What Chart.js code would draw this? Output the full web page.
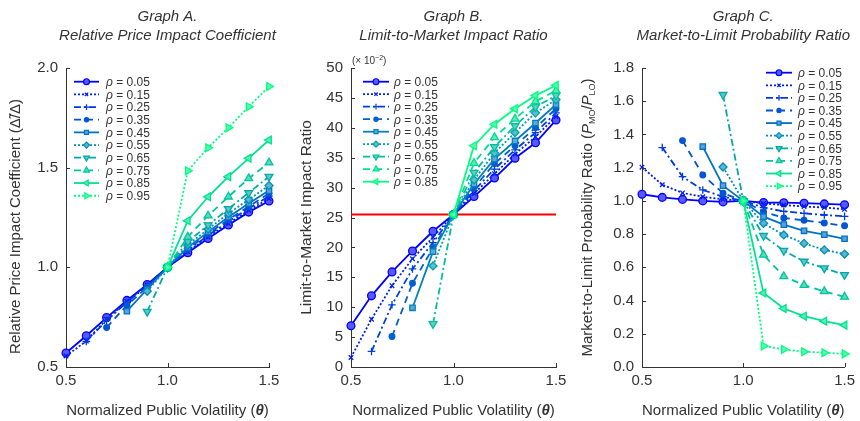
<!DOCTYPE html>
<html><head><meta charset="utf-8">
<script src="https://cdn.jsdelivr.net/npm/chart.js@4/dist/chart.umd.min.js"></script>
<style>
html,body{margin:0;padding:0;background:#fff;width:860px;height:421px;overflow:hidden}
canvas{position:absolute;top:0}
</style></head><body>
<canvas id="cA" width="290" height="421" style="left:0"></canvas>
<canvas id="cB" width="285" height="421" style="left:290px"></canvas>
<canvas id="cC" width="285" height="421" style="left:575px"></canvas>
<script>
// ---------- DATA ----------
const theta = [0.5, 0.6, 0.7, 0.8, 0.9, 1.0, 1.1, 1.2, 1.3, 1.4, 1.5];
const rhoA = ['0.05','0.15','0.25','0.35','0.45','0.55','0.65','0.75','0.85','0.95'];
const rhoB = ['0.05','0.15','0.25','0.35','0.45','0.55','0.65','0.75','0.85'];
const rhoC = ['0.05','0.15','0.25','0.35','0.45','0.55','0.65','0.75','0.85','0.95'];

// Graph A: relative price impact coefficient
const a05 = [0.570,0.657,0.748,0.834,0.914,1.0,1.073,1.145,1.212,1.277,1.333];
const a15 = [0.555,0.630,0.740,0.829,0.911,1.0,1.078,1.152,1.220,1.285,1.345];
const a25 = [null,0.628,0.733,0.825,0.908,1.0,1.085,1.160,1.230,1.295,1.357];
const a35 = [null,null,0.698,0.810,0.900,1.0,1.092,1.168,1.240,1.305,1.370];
const a45 = [null,null,null,0.780,0.890,1.0,1.100,1.178,1.252,1.320,1.385];
const a55 = [null,null,null,null,0.880,1.0,1.112,1.192,1.270,1.340,1.410];
const a65 = [null,null,null,null,0.778,1.0,1.128,1.212,1.293,1.374,1.455];
const a75 = [null,null,null,null,null,1.0,1.153,1.259,1.354,1.446,1.525];
const a85 = [null,null,null,null,null,1.0,1.234,1.354,1.455,1.547,1.639];
const a95 = [null,null,null,null,null,1.0,1.485,1.600,1.700,1.806,1.907];

// Graph B: limit-to-market impact ratio (x 10^-2)
const b05 = [6.9,11.9,15.9,19.4,22.7,25.5,28.5,31.6,34.9,37.5,41.3];
const b15 = [1.6,8.0,13.6,18.1,21.7,25.5,29.0,32.3,35.6,38.5,41.9];
const b25 = [null,2.6,10.4,16.4,20.8,25.5,29.5,33.1,36.3,39.2,42.5];
const b35 = [null,null,5.1,14.0,19.9,25.5,30.0,34.0,37.0,40.0,43.2];
const b45 = [null,null,null,9.9,19.3,25.5,30.6,34.8,37.8,40.8,43.9];
const b55 = [null,null,null,null,16.9,25.5,31.3,35.8,39.2,42.5,44.7];
const b65 = [null,null,null,null,7.2,25.5,32.5,36.8,40.3,43.5,45.4];
const b75 = [null,null,null,null,null,25.5,34.1,38.4,41.5,44.4,46.2];
const b85 = [null,null,null,null,null,25.5,37.0,40.6,43.2,45.4,47.1];
const bReference = 25.5;

// Graph C: market-to-limit probability ratio
const c05 = [1.040,1.021,1.009,1.000,0.994,1.0,0.990,0.989,0.986,0.982,0.977];
const c15 = [1.203,1.097,1.048,1.025,1.010,1.0,0.985,0.975,0.966,0.960,0.950];
const c25 = [null,1.321,1.146,1.066,1.025,1.0,0.960,0.937,0.925,0.915,0.907];
const c35 = [null,null,1.363,1.156,1.046,1.0,0.935,0.897,0.883,0.867,0.850];
const c45 = [null,null,null,1.327,1.092,1.0,0.905,0.857,0.820,0.797,0.772];
const c55 = [null,null,null,null,1.204,1.0,0.865,0.795,0.744,0.705,0.680];
const c65 = [null,null,null,null,1.639,1.0,0.790,0.700,0.635,0.595,0.555];
const c75 = [null,null,null,null,null,1.0,0.675,0.545,0.493,0.455,0.422];
const c85 = [null,null,null,null,null,1.0,0.445,0.352,0.306,0.276,0.252];
const c95 = [null,null,null,null,null,1.0,0.127,0.105,0.092,0.086,0.079];

const seriesA = [a05,a15,a25,a35,a45,a55,a65,a75,a85,a95];
const seriesB = [b05,b15,b25,b35,b45,b55,b65,b75,b85];
const seriesC = [c05,c15,c25,c35,c45,c55,c65,c75,c85,c95];

// ---------- STYLES ----------
const FONT = "'Liberation Sans', Arial, Helvetica, sans-serif";
const TXT = '#333';
const lineStyles = [
  {dash:[],        ps:'circle',   rot:0,   r:3.9, fill:'light'},
  {dash:[2,2],     ps:'crossRot', rot:0,   r:3.2, fill:'light'},
  {dash:[7,3,2,3], ps:'cross',    rot:0,   r:3.8, fill:'light'},
  {dash:[7,5],     ps:'circle',   rot:0,   r:2.8, fill:'full'},
  {dash:[],        ps:'rect',     rot:0,   r:3.8, fill:'light'},
  {dash:[2,2],     ps:'rectRot',  rot:0,   r:4.0, fill:'light'},
  {dash:[7,3,2,3], ps:'triangle', rot:180, r:4.5, fill:'light'},
  {dash:[7,5],     ps:'triangle', rot:0,   r:4.5, fill:'light'},
  {dash:[],        ps:'triangle', rot:-90, r:4.5, fill:'light'},
  {dash:[2,2],     ps:'triangle', rot:90,  r:4.5, fill:'light'}
];
function winter(t){ return [0, Math.round(255*t), Math.round(255*(1-0.5*t))]; }
function rgb(c){ return 'rgb('+c.join(',')+')'; }
function lighten(c,k){ return 'rgb('+c.map(v=>Math.round(v+(255-v)*k)).join(',')+')'; }

function buildDatasets(series, rhos){
  const n = series.length;
  return series.map((vals,i)=>{
    const st = lineStyles[i];
    const c = winter(i/(n-1));
    const pts = [];
    theta.forEach((t,j)=>{ if (vals[j]!==null) pts.push({x:t, y:vals[j]}); });
    return {
      label: 'ρ = '+rhos[i], rho: rhos[i], data: pts,
      borderColor: rgb(c), borderWidth: 1.8, borderDash: st.dash,
      pointStyle: st.ps, pointRotation: st.rot, pointRadius: st.r,
      pointBorderColor: rgb(c), pointBorderWidth: 1.3,
      pointBackgroundColor: st.fill==='full' ? rgb(c) : lighten(c,0.35),
      tension: 0, fill: false, clip: false, order: n - i
    };
  });
}

// ---------- PLUGINS ----------
function drawRich(ctx, segs, x, y, align){
  let w = 0;
  segs.forEach(s=>{ ctx.font = s.f; s.w = ctx.measureText(s.t).width; w += s.w; });
  let cx = align==='center' ? x - w/2 : x;
  ctx.textAlign = 'left';
  segs.forEach(s=>{ ctx.font = s.f; ctx.fillText(s.t, cx, y + (s.dy||0)); cx += s.w; });
}

const rhoLegend = {
  id: 'rhoLegend',
  afterDatasetsDraw(chart, args, o){
    if (!o || o.x0 === undefined) return;
    const ctx = chart.ctx;
    ctx.save();
    let row = 0;
    chart.data.datasets.forEach(ds=>{
      if (!ds.rho) return;
      const y = o.y + row*o.dy;
      ctx.strokeStyle = ds.borderColor; ctx.lineWidth = ds.borderWidth;
      ctx.setLineDash(ds.borderDash||[]);
      ctx.beginPath(); ctx.moveTo(o.x0, y); ctx.lineTo(o.x1, y); ctx.stroke();
      ctx.setLineDash([]);
      ctx.fillStyle = ds.pointBackgroundColor; ctx.strokeStyle = ds.pointBorderColor; ctx.lineWidth = 1.2;
      Chart.helpers.drawPoint(ctx, {pointStyle: ds.pointStyle, rotation: ds.pointRotation||0,
        radius: ds.pointRadius*0.75, borderWidth: 1.2}, (o.x0+o.x1)/2, y);
      ctx.fillStyle = TXT; ctx.textBaseline = 'alphabetic';
      drawRich(ctx, [{t:'ρ', f:'italic 12px '+FONT}, {t:' = '+ds.rho, f:'12px '+FONT}], o.tx, y+4.3, 'left');
      row++;
    });
    ctx.restore();
  }
};

const inTicks = {
  id: 'inTicks',
  afterDraw(chart){
    const {ctx, chartArea: ca, scales: {x, y}} = chart;
    ctx.save(); ctx.strokeStyle = '#333'; ctx.lineWidth = 1; ctx.beginPath();
    x.ticks.forEach(t=>{ const p = Math.round(x.getPixelForValue(t.value))+0.5; ctx.moveTo(p, ca.bottom); ctx.lineTo(p, ca.bottom-4); });
    y.ticks.forEach(t=>{ const p = Math.round(y.getPixelForValue(t.value))+0.5; ctx.moveTo(ca.left, p); ctx.lineTo(ca.left+4, p); });
    ctx.stroke(); ctx.restore();
  }
};

const texts = {
  id: 'texts',
  afterDraw(chart, args, o){
    if (!o || !o.title) return;
    const ctx = chart.ctx, ca = chart.chartArea;
    const cx = (ca.left + ca.right)/2, cy = (ca.top + ca.bottom)/2;
    ctx.save();
    ctx.fillStyle = TXT; ctx.textBaseline = 'alphabetic';
    drawRich(ctx, [{t:o.title[0], f:'italic 15px '+FONT}], cx, 21, 'center');
    drawRich(ctx, [{t:o.title[1], f:'italic 15px '+FONT}], cx, 40, 'center');
    drawRich(ctx, [{t:'Normalized Public Volatility (', f:'15px '+FONT}, {t:'θ', f:'italic bold 15px '+FONT}, {t:')', f:'15px '+FONT}], cx, 415, 'center');
    ctx.save();
    ctx.translate(o.yX, cy + (o.yShift||0)); ctx.rotate(-Math.PI/2);
    drawRich(ctx, o.yTitle, 0, 0, 'center');
    ctx.restore();
    if (o.scaleNote){
      drawRich(ctx, [{t:'(× 10', f:'10px '+FONT}, {t:'−2', f:'7px '+FONT, dy:-4}, {t:')', f:'10px '+FONT}], ca.left+1, 64, 'left');
    }
    ctx.restore();
  }
};
Chart.register(rhoLegend, inTicks, texts);

function makeChart(id, datasets, cfg){
  return new Chart(document.getElementById(id), {
    type: 'line',
    data: {datasets},
    options: {
      responsive: false, animation: false, events: [],
      layout: {padding: {left: 0, right: cfg.padR, top: 68, bottom: 0}},
      plugins: {legend: {display: false}, tooltip: {enabled: false},
        rhoLegend: cfg.legend, texts: cfg.texts},
      scales: {
        x: {type: 'linear', min: 0.5, max: 1.5,
          ticks: {stepSize: 0.5, callback: v => v.toFixed(1), font: {size: 15, family: FONT}, color: TXT, padding: 5, maxRotation: 0, autoSkip: false},
          grid: {display: false, drawTicks: false}, border: {display: true, color: '#333', width: 1},
          afterFit(s){ s.height = 54; }},
        y: {type: 'linear', min: cfg.ymin, max: cfg.ymax,
          ticks: {stepSize: cfg.step, callback: cfg.fmt, font: {size: 15, family: FONT}, color: TXT, padding: 8, autoSkip: false},
          grid: {display: false, drawTicks: false}, border: {display: true, color: '#333', width: 1},
          afterFit(s){ s.width = cfg.left; }}
      }
    }
  });
}

// Graph A
makeChart('cA', buildDatasets(seriesA, rhoA), {
  padR: 21, left: 66, ymin: 0.5, ymax: 2.0, step: 0.5, fmt: v => v.toFixed(1),
  legend: {x0: 74, x1: 99, tx: 106, y: 81.7, dy: 12.67},
  texts: {title: ['Graph A.', 'Relative Price Impact Coefficient'], yX: 20, yShift: 9,
    yTitle: [{t:'Relative Price Impact Coefficient (Δ\u0303/Δ)', f:'15px '+FONT}]}
});

// Graph B
const dsB = buildDatasets(seriesB, rhoB);
dsB.push({label: 'ref', data: [{x: theta[0], y: bReference}, {x: theta[theta.length-1], y: bReference}],
  borderColor: '#ff0000', borderWidth: 2, pointRadius: 0, clip: false, order: 100});
makeChart('cB', dsB, {
  padR: 19, left: 61, ymin: 0, ymax: 50, step: 5, fmt: v => String(Math.round(v)),
  legend: {x0: 73, x1: 99, tx: 104, y: 81.7, dy: 12.5},
  texts: {title: ['Graph B.', 'Limit-to-Market Impact Ratio'], yX: 21, scaleNote: true,
    yTitle: [{t:'Limit-to-Market Impact Ratio', f:'15.5px '+FONT}]}
});

// Graph C
makeChart('cC', buildDatasets(seriesC, rhoC), {
  padR: 14, left: 67, ymin: 0, ymax: 1.8, step: 0.2, fmt: v => v.toFixed(1),
  legend: {x0: 191, x1: 217, tx: 223, y: 72.7, dy: 12.6},
  texts: {title: ['Graph C.', 'Market-to-Limit Probability Ratio'], yX: 17,
    yTitle: [{t:'Market-to-Limit Probability Ratio (', f:'15px '+FONT},
             {t:'P', f:'italic 15px '+FONT}, {t:'MO', f:'9px '+FONT, dy:3},
             {t:'/', f:'15px '+FONT},
             {t:'P', f:'italic 15px '+FONT}, {t:'LO', f:'9px '+FONT, dy:3},
             {t:')', f:'15px '+FONT}]}
});
</script>
</body></html>
